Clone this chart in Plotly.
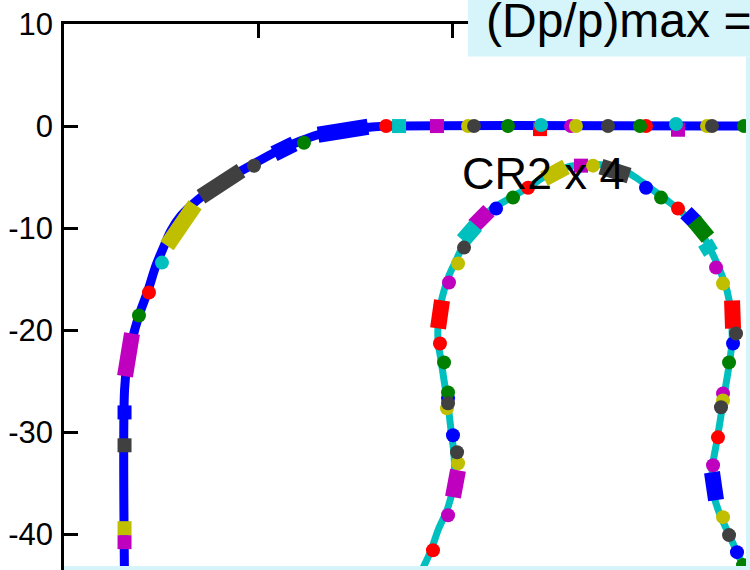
import plotly.graph_objects as go

# ---- beam line coming from the left arc onto the straight section (m) ----
BEAM_X = [31.9, -6.29, -8.66, -11.44, -13.81, -15.57, -17.94, -20.41, -22.27,
          -23.81, -26.19, -27.94, -28.97, -29.79, -30.52, -31.34, -32.27,
          -32.99, -33.51, -33.76, -33.76]
BEAM_Y = [0.0, 0.0, -0.12, -0.36, -0.85, -1.44, -2.42, -3.69, -4.67,
          -5.55, -7.21, -8.78, -10.24, -12.0, -13.67, -16.11, -18.56,
          -21.0, -23.45, -25.9, -44.5]

# ---- CR2 ring orbit (m) ----
RING_X = [-3.20, -2.16, -1.44, -0.41, 0.21, 0.21, -0.10, -0.41, -0.82, -1.13,
          -1.44, -1.34, -0.82, -0.31, 0.41, 1.13, 1.96, 2.99, 4.33, 6.08,
          7.84, 9.69, 11.24, 13.30, 15.36, 17.42, 18.97, 20.52, 22.06, 23.61,
          24.95, 25.98, 26.80, 27.63, 28.35, 28.76, 28.87, 28.56, 28.14,
          27.73, 27.32, 26.91, 26.80, 27.53, 28.45, 29.38, 30.31]
RING_Y = [-43.71, -41.56, -39.60, -37.35, -34.71, -32.26, -29.81, -27.37,
          -24.92, -22.96, -21.01, -18.36, -16.11, -14.65, -13.18, -11.71,
          -10.44, -8.97, -7.99, -7.01, -6.03, -4.86, -4.18, -3.79, -3.79,
          -4.18, -5.06, -6.13, -7.21, -8.38, -9.66, -10.93, -12.40, -14.16,
          -16.11, -18.36, -21.01, -23.45, -25.90, -28.35, -30.79, -33.04,
          -35.39, -37.84, -39.80, -41.75, -43.71]

# ---- long magnets: start / end points and family ----
SEG_X0 = [-13.81, -18.35, -25.88, -29.38, -32.99,
          9.48, 15.36, 2.27, 1.13, -1.03, 24.12, 24.95, 26.08, 28.87, 0.62, 26.80]
SEG_Y0 = [-0.85, -2.71, -6.92, -11.72, -20.32,
          -5.17, -3.98, -9.75, -11.22, -17.09, -8.48, -9.26, -11.42, -17.09, -33.72, -33.92]
SEG_X1 = [-8.66, -16.29, -21.75, -26.49, -33.71,
          11.75, 18.25, 3.81, 2.47, -1.44, 25.15, 26.39, 26.70, 28.97, 0.10, 27.22]
SEG_Y1 = [-0.07, -1.74, -4.37, -7.70, -24.52,
          -4.00, -4.86, -8.29, -9.75, -19.83, -9.46, -10.93, -12.40, -19.83, -36.36, -36.66]
SEG_FAM = ["blue", "blue", "gray", "yellow", "magenta",
           "yellow", "gray", "magenta", "cyan", "red", "blue", "green", "cyan", "red",
           "magenta", "blue"]

# ---- short elements (round) ----
DOT_X = [-15.26, -20.41, -29.90, -31.24, -32.27,
         -6.80, 1.65, 2.27, 5.77, 9.18, 12.27, 12.78, 16.08, 19.38, 20.0, 23.09,
         26.29, 26.80, 30.10,
         14.54, 7.84, 6.29, 4.54, 1.24, 0.62, -0.31, -1.24, -0.82,
         -0.41, -0.41, -0.41, -0.52, 0.10, 0.52, 0.62, -0.41, -1.96,
         20.0, 21.55, 23.30, 27.22, 27.94, 29.28, 28.97, 28.56,
         27.94, 27.94, 27.73, 27.42, 26.91, 27.94, 28.56, 29.38, 30.0]
DOT_Y = [-1.63, -3.89, -13.38, -16.31, -18.56,
         0.0, 0.0, 0.0, 0.0, 0.1, 0.0, 0.0, 0.0, 0.0, 0.0, 0.2,
         0.0, 0.0, 0.0,
         -3.88, -6.04, -7.01, -8.09, -11.91, -13.47, -15.33, -21.30, -23.16,
         -26.10, -26.68, -27.17, -27.66, -30.30, -31.96, -33.04, -38.13, -41.56,
         -6.04, -7.01, -8.09, -13.86, -15.43, -20.32, -21.30, -23.16,
         -26.20, -26.88, -27.56, -30.50, -33.23, -38.32, -40.08, -41.75, -43.02]
DOT_FAM = ["green", "gray", "cyan", "red", "green",
           "red", "yellow", "gray", "green", "cyan", "magenta", "yellow", "gray",
           "green", "red", "cyan", "yellow", "gray", "green",
           "yellow", "red", "green", "blue", "gray", "yellow", "magenta", "red", "green",
           "green", "blue", "gray", "yellow", "blue", "gray", "yellow", "magenta", "red",
           "blue", "green", "red", "magenta", "yellow", "gray", "blue", "green",
           "magenta", "yellow", "gray", "red", "magenta", "yellow", "gray", "blue", "green"]

# ---- short elements (square) ----
BOX_X = [-5.46, -1.55, 9.07, 23.30, 13.30, -33.76, -33.76, -33.76, -33.76]
BOX_Y = [0.0, 0.0, -0.30, -0.36, -3.88, -28.06, -31.28, -39.40, -40.77]
BOX_FAM = ["cyan", "magenta", "red", "magenta", "magenta", "blue", "gray", "yellow", "magenta"]

# ---- vertical axis ticks ----
Y_TICKS = [-40, -30, -20, -10, 0, 10]
Y_TICK_TEXT = ["-40", "-30", "-20", "-10", "0", "10"]

FAMILY_COLOR = {
    "blue": "#0000ff", "red": "#ff0000", "green": "#007f00",
    "magenta": "#bf00bf", "cyan": "#00bfbf", "yellow": "#bfbf00", "gray": "#404040",
}
FONT = "Liberation Sans, Arial, Helvetica, sans-serif"

fig = go.Figure()

fig.add_trace(go.Scatter(x=BEAM_X, y=BEAM_Y, mode="lines",
                         line=dict(color="#0000ff", width=9, shape="spline"),
                         hoverinfo="skip"))
fig.add_trace(go.Scatter(x=RING_X, y=RING_Y, mode="lines",
                         line=dict(color="#00bfbf", width=7, shape="spline"),
                         hoverinfo="skip"))

for fam, col in FAMILY_COLOR.items():
    xs, ys = [], []
    for x0, y0, x1, y1, f in zip(SEG_X0, SEG_Y0, SEG_X1, SEG_Y1, SEG_FAM):
        if f == fam:
            xs += [x0, x1, None]
            ys += [y0, y1, None]
    if xs:
        fig.add_trace(go.Scatter(x=xs, y=ys, mode="lines",
                                 line=dict(color=col, width=16), hoverinfo="skip"))

for fam, col in FAMILY_COLOR.items():
    pts = [(x, y) for x, y, f in zip(DOT_X, DOT_Y, DOT_FAM) if f == fam]
    if pts:
        fig.add_trace(go.Scatter(x=[p[0] for p in pts], y=[p[1] for p in pts],
                                 mode="markers",
                                 marker=dict(color=col, size=14, symbol="circle",
                                             line=dict(width=0)),
                                 hoverinfo="skip"))
    sq = [(x, y) for x, y, f in zip(BOX_X, BOX_Y, BOX_FAM) if f == fam]
    if sq:
        fig.add_trace(go.Scatter(x=[p[0] for p in sq], y=[p[1] for p in sq],
                                 mode="markers",
                                 marker=dict(color=col, size=14, symbol="square",
                                             line=dict(width=0)),
                                 hoverinfo="skip"))

PANEL = "#d5f5fa"
fig.update_layout(
    width=750, height=570,
    margin=dict(l=64, r=0, t=24, b=0, pad=0),
    paper_bgcolor="white", plot_bgcolor="white",
    showlegend=False,
    xaxis=dict(range=[-40, 30.72], side="top", showline=True, linecolor="black",
               linewidth=2.5, ticks="inside", ticklen=14, tickwidth=2.5,
               tickcolor="black", tick0=0, dtick=20, showticklabels=False,
               showgrid=False, zeroline=False, automargin=False),
    yaxis=dict(range=[-43.5, 10], showline=True, linecolor="black", linewidth=2.5,
               ticks="inside", ticklen=14, tickwidth=2.5, tickcolor="black",
               tickmode="array", tickvals=Y_TICKS, ticktext=Y_TICK_TEXT,
               showgrid=False, zeroline=False, automargin=False,
               tickfont=dict(family=FONT, size=31, color="black"),
               ticklabelstandoff=2),
    shapes=[
        dict(type="rect", xref="paper", yref="paper", x0=0.589, x1=1.02,
             y0=0.9405, y1=1.05, fillcolor=PANEL, line=dict(width=0), layer="above"),
        dict(type="rect", xref="paper", yref="paper", x0=0.9942, x1=1.02,
             y0=-0.02, y1=0.9405, fillcolor=PANEL, line=dict(width=0), layer="above"),
        dict(type="rect", xref="paper", yref="paper", x0=0, x1=1.02,
             y0=-0.02, y1=0.0073, fillcolor=PANEL, line=dict(width=0), layer="above"),
    ],
    annotations=[
        dict(text="CR2 x 4", x=9.38, y=-4.67, xref="x", yref="y",
             xanchor="center", yanchor="middle", showarrow=False,
             font=dict(family=FONT, size=45, color="black")),
        dict(text="(Dp/p)max =", x=0.6125, y=1.006, xref="paper", yref="paper",
             xanchor="left", yanchor="middle", showarrow=False,
             font=dict(family=FONT, size=48, color="black")),
    ],
)

fig.write_html("out.html")
